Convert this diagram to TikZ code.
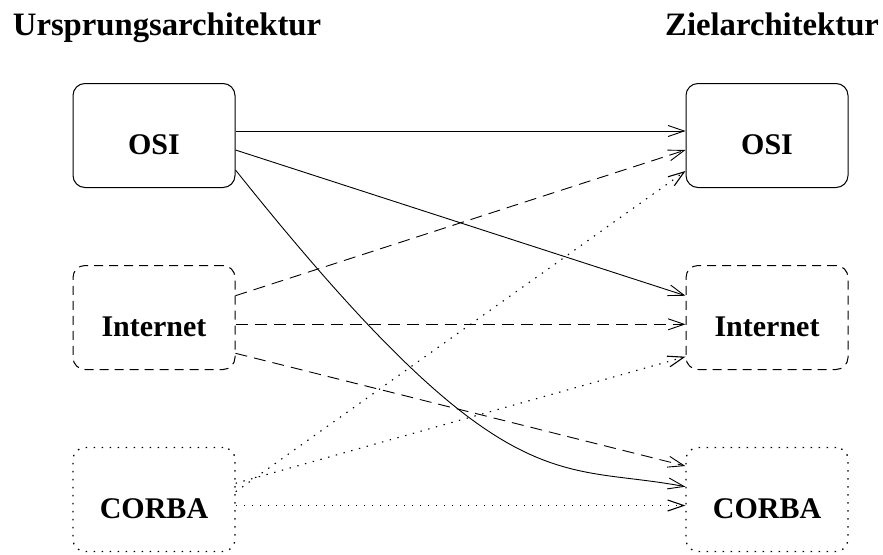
\documentclass[tikz,border=0pt]{standalone}
\usepackage{fontspec}
\setmainfont{Liberation Serif}
\usetikzlibrary{arrows.meta,calc}
\begin{document}
\begin{tikzpicture}[x=1pt,y=-1pt,
  box/.style={draw,rectangle,rounded corners=12pt,minimum width=162pt,minimum height=104pt,inner sep=0pt,line width=1pt},
  boxdash/.style={box,dash pattern=on 9pt off 6pt},
  boxdot/.style={box,line width=1.3pt,dash pattern=on 1.5pt off 6.5pt},
  lbl/.style={anchor=base,inner sep=0pt,font=\fontsize{30}{36}\selectfont\bfseries},
  ttl/.style={anchor=base west,inner sep=0pt,font=\fontsize{32.7}{39}\selectfont\bfseries},
  conn/.style={line width=0.9pt,-{Straight Barb[length=16pt,width=11pt]}},
  dconn/.style={conn,dash pattern=on 12pt off 7pt},
  pconn/.style={conn,line width=1.1pt,dash pattern=on 1.4pt off 6.6pt}]
\useasboundingbox (0,0) rectangle (883,554);

% column titles
\node[ttl] (tL) at (12.7,35) {Ursprungsarchitektur};
\node[ttl] (tR) at (665,35) {Zielarchitektur};

% source architectures
\node[box]     (osiL) at (154,135.5) {};
\node[boxdash] (inL)  at (154,317.5) {};
\node[boxdot]  (coL)  at (154,499.5) {};
% target architectures
\node[box]     (osiR) at (767,135.5) {};
\node[boxdash] (inR)  at (767,317.5) {};
\node[boxdot]  (coR)  at (767,499.5) {};

\foreach \n/\t in {osiL/OSI,inL/Internet,coL/CORBA,osiR/OSI,inR/Internet,coR/CORBA}
  \node[lbl] (\n-t) at ($(\n.center)+(0,18.5)$) {\t};

% mappings from OSI
\draw[conn] (osiL.east |- 0,131) -- (osiR.west |- 0,131);
\draw[conn] (osiL.east |- 0,150) -- (inR.west |- 0,295.7);
\draw[conn] (osiL.east |- 0,170) .. controls (505,507.5) and (555,462) .. (coR.west |- 0,486.7);

% mappings from Internet
\draw[dconn] (inL.east |- 0,295.7) -- (osiR.west |- 0,150);
\draw[dconn] (inL.east |- 0,324.3) -- (inR.west |- 0,324.3);
\draw[dconn] (inL.east |- 0,353.3) -- (coR.west |- 0,466);

% mappings from CORBA
\draw[pconn] (coL.east |- 0,491.7) -- (osiR.west |- 0,171);
\draw[pconn] (coL.east |- 0,483.3) -- (inR.west |- 0,356.7);
\draw[pconn] (coL.east |- 0,505.5) -- (coR.west |- 0,505.5);
\end{tikzpicture}
\end{document}
